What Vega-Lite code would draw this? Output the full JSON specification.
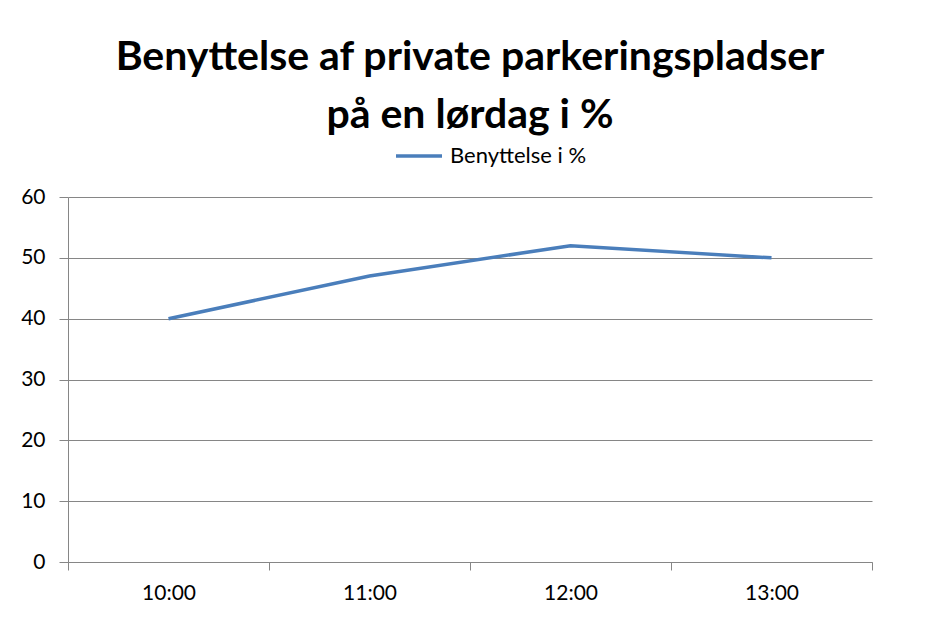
{
  "$schema": "https://vega.github.io/schema/vega-lite/v6.json",
  "width": 804,
  "height": 365,
  "autosize": {"type": "none"},
  "padding": {"left": 68, "top": 197, "right": 64, "bottom": 57},
  "background": "white",
  "title": {
    "text": ["Benyttelse af private parkeringspladser", "på en lørdag i %"],
    "font": "Lato",
    "fontSize": 41,
    "fontWeight": "bold",
    "color": "#000000",
    "lineHeight": 58,
    "anchor": "middle",
    "offset": -6
  },
  "data": {
    "values": [
      {"tid": "10:00", "serie": "Benyttelse i %", "vaerdi": 40},
      {"tid": "11:00", "serie": "Benyttelse i %", "vaerdi": 47},
      {"tid": "12:00", "serie": "Benyttelse i %", "vaerdi": 52},
      {"tid": "13:00", "serie": "Benyttelse i %", "vaerdi": 50}
    ]
  },
  "mark": {"type": "line", "strokeWidth": 3.5},
  "encoding": {
    "x": {
      "field": "tid",
      "type": "nominal",
      "scale": {"type": "band", "paddingInner": 0, "paddingOuter": 0},
      "axis": {
        "title": null,
        "labelAngle": 0,
        "tickBand": "extent",
        "grid": false,
        "domainColor": "#868686",
        "tickColor": "#868686",
        "tickSize": 8,
        "labelPadding": 12,
        "labelFont": "Lato",
        "labelFontSize": 21,
        "labelColor": "#000000"
      }
    },
    "y": {
      "field": "vaerdi",
      "type": "quantitative",
      "scale": {"domain": [0, 60], "nice": false},
      "axis": {
        "title": null,
        "values": [0, 10, 20, 30, 40, 50, 60],
        "grid": true,
        "gridColor": "#868686",
        "domainColor": "#868686",
        "tickColor": "#868686",
        "tickSize": 9,
        "labelPadding": 14,
        "labelFont": "Lato",
        "labelFontSize": 21,
        "labelColor": "#000000"
      }
    },
    "color": {
      "field": "serie",
      "type": "nominal",
      "scale": {"range": ["#4a7ebb"]},
      "legend": {
        "title": null,
        "orient": "none",
        "legendX": 326,
        "legendY": -66,
        "symbolType": "stroke",
        "symbolStrokeWidth": 3.5,
        "symbolSize": 2116,
        "labelFont": "Lato",
        "labelFontSize": 22,
        "labelColor": "#000000",
        "labelOffset": 6
      }
    }
  },
  "config": {
    "view": {"stroke": null}
  }
}
